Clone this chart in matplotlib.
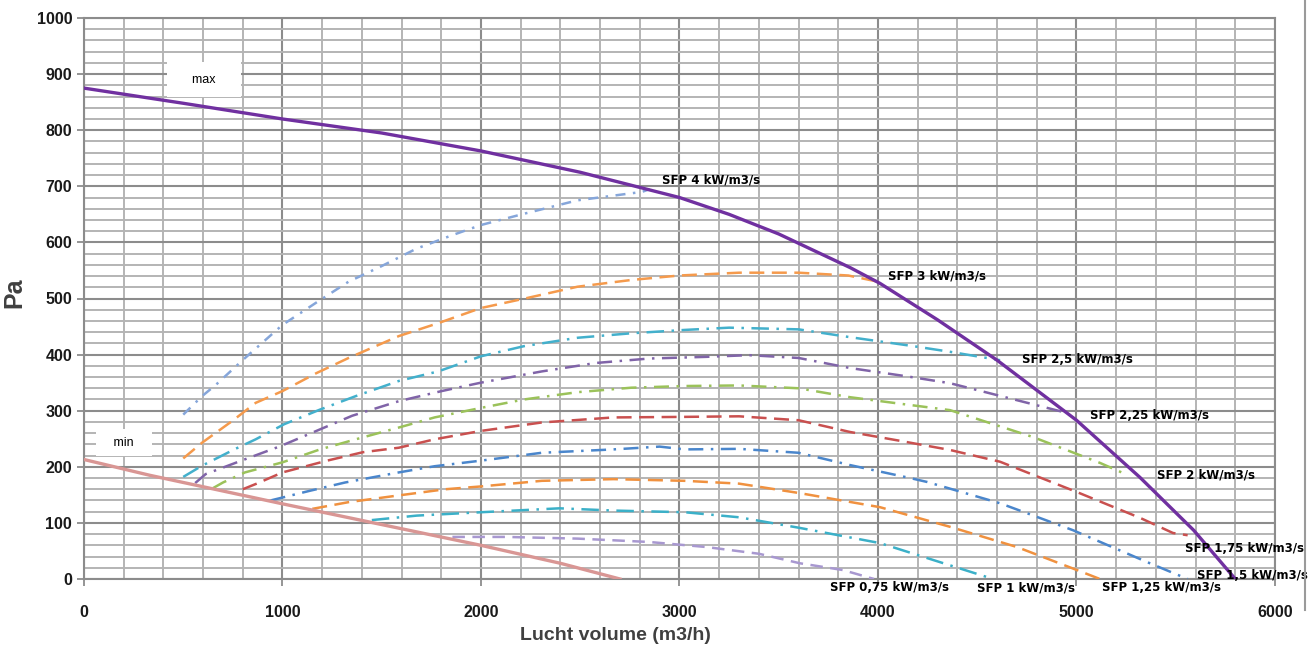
import matplotlib
matplotlib.use("Agg")
import matplotlib.pyplot as plt
from matplotlib.lines import Line2D
from matplotlib.ticker import MultipleLocator

# curve data (x = m3/h, y = Pa)
max_x = [0, 500, 1000, 1500, 2000, 2500, 3000, 3250, 3500, 3860, 4010, 4300, 4600, 5000, 5320, 5590, 5800]
max_y = [875, 848, 820, 795, 763, 725, 680, 650, 615, 555, 527, 462, 390, 283, 181, 87, 0]

min_x = [0, 330, 1000, 1500, 2000, 2400, 2700]
min_y = [213, 185, 134, 97, 60, 28, 0]

sfp_names = ["SFP 4 kW/m3/s", "SFP 3 kW/m3/s", "SFP 2,5 kW/m3/s", "SFP 2,25 kW/m3/s",
             "SFP 2 kW/m3/s", "SFP 1,75 kW/m3/s", "SFP 1,5 kW/m3/s", "SFP 1,25 kW/m3/s",
             "SFP 1 kW/m3/s", "SFP 0,75 kW/m3/s"]

sfp_x = [
    [500, 595, 667, 802, 1000, 1180, 1333, 1495, 1676, 1856, 2000, 2216, 2486, 2811, 2850],
    [500, 595, 748, 865, 1000, 1171, 1333, 1586, 1784, 2000, 2234, 2486, 2757, 3000, 3300, 3600, 3850, 4000],
    [500, 595, 757, 865, 1009, 1189, 1369, 1586, 1784, 2000, 2216, 2486, 2757, 3027, 3250, 3600, 3860, 4160, 4363, 4615],
    [560, 613, 793, 991, 1171, 1351, 1586, 1802, 2000, 2306, 2577, 2847, 3135, 3350, 3600, 3860, 4150, 4363, 4564, 4952],
    [650, 700, 811, 1000, 1189, 1369, 1586, 1766, 2000, 2216, 2486, 2757, 3027, 3300, 3600, 3860, 4100, 4363, 4781, 5118, 5234],
    [800, 870, 1000, 1225, 1405, 1586, 1766, 2000, 2306, 2667, 3027, 3300, 3600, 3860, 4100, 4363, 4615, 5002, 5320, 5486, 5560],
    [940, 1135, 1315, 1586, 1766, 2000, 2306, 2667, 2900, 3027, 3300, 3600, 3860, 4161, 4247, 4615, 4982, 5370, 5560],
    [1150, 1333, 1586, 1820, 2000, 2306, 2667, 3027, 3300, 3607, 4010, 4363, 4700, 5002, 5118],
    [1450, 1676, 2000, 2396, 2667, 3027, 3300, 3607, 4010, 4277, 4580],
    [1856, 2126, 2486, 2847, 3135, 3400, 3607, 3823, 3980],
]
sfp_y = [
    [293, 326, 347, 391, 453, 495, 530, 557, 589, 613, 631, 651, 675, 690, 695],
    [215, 243, 282, 314, 335, 367, 394, 433, 456, 483, 501, 521, 533, 541, 546, 546, 541, 530],
    [182, 202, 231, 249, 276, 302, 326, 353, 370, 397, 415, 430, 438, 444, 448, 445, 431, 416, 405, 390],
    [171, 187, 211, 237, 264, 291, 317, 335, 350, 370, 385, 393, 396, 399, 394, 376, 361, 349, 331, 296],
    [162, 172, 190, 208, 231, 249, 270, 288, 305, 320, 333, 341, 344, 345, 340, 324, 313, 301, 253, 207, 189],
    [160, 170, 190, 211, 226, 234, 249, 264, 279, 288, 289, 290, 283, 262, 247, 230, 209, 155, 109, 82, 78],
    [140, 157, 172, 190, 201, 211, 225, 231, 236, 231, 232, 225, 203, 180, 173, 135, 87, 28, 0],
    [125, 137, 149, 160, 165, 175, 178, 175, 170, 153, 128, 93, 57, 16, 0],
    [105, 113, 119, 126, 122, 119, 110, 91, 64, 34, 0],
    [75, 75, 72, 66, 57, 45, 28, 16, 0],
]

sfp_colors = ["#86A6DA", "#F59A4C", "#43B0CC", "#8064A8", "#9BC25A",
              "#C9504F", "#4A86CC", "#F0913F", "#3BB0C8", "#A898D0"]
sfp_dashes = [(0, (4, 3, 1, 3)), (0, (6, 3)), (0, (7, 3, 1, 3)), (0, (6, 3, 1, 3)),
              (0, (6, 3, 1, 3)), (0, (6, 3)), (0, (6, 3, 1, 3)), (0, (6, 3)),
              (0, (7, 3, 1, 3)), (0, (5, 3))]

# label anchor (left, centre) in data units
label_x = [2912, 4050, 4725, 5068, 5406, 5547, 5607, 5128, 4499, 3758]
label_y = [711, 540, 392, 292, 185, 55, 7, -16, -16, -16]

fig = plt.figure(figsize=(13.12, 6.58), dpi=100)
ax = fig.add_axes([84 / 1312, 79 / 658, 1191 / 1312, 561 / 658])

ax.set_xlim(0, 6000)
ax.set_ylim(0, 1000)
ax.xaxis.set_major_locator(MultipleLocator(1000))
ax.xaxis.set_minor_locator(MultipleLocator(200))
ax.yaxis.set_major_locator(MultipleLocator(100))
ax.yaxis.set_minor_locator(MultipleLocator(20))
ax.grid(which="minor", color="#B4B4B4", linewidth=1.4)
ax.grid(which="major", color="#8C8C8C", linewidth=1.5)
ax.set_axisbelow(True)
for side in ["top", "right", "left", "bottom"]:
    ax.spines[side].set_color("#8C8C8C")
    ax.spines[side].set_linewidth(1.5)

ax.tick_params(which="major", direction="out", length=5, width=1.3, color="#8C8C8C",
               labelsize=11.5)
ax.tick_params(which="minor", length=0)
ax.tick_params(axis="x", pad=14)
for lbl in ax.get_xticklabels() + ax.get_yticklabels():
    lbl.set_fontweight("bold")
    lbl.set_family("Liberation Sans")
    lbl.set_color("#1A1A1A")

for i in range(len(sfp_names)):
    ax.plot(sfp_x[i], sfp_y[i], color=sfp_colors[i], linestyle=sfp_dashes[i],
            linewidth=1.8, zorder=3)

ax.plot(min_x, min_y, color="#D99694", linewidth=2.4, zorder=4)
ax.plot(max_x, max_y, color="#7030A0", linewidth=2.4, zorder=4)

for i, name in enumerate(sfp_names):
    ax.text(label_x[i], label_y[i], name, ha="left", va="center", fontsize=8.5,
            fontweight="bold", family=["Liberation Sans Narrow", "DejaVu Sans"],
            clip_on=False, zorder=6)

ax.text(605, 890, "    max    ", ha="center", va="center", fontsize=9,
        family="Liberation Sans", zorder=5,
        bbox=dict(boxstyle="square,pad=0.9", facecolor="white", edgecolor="none"))
ax.text(200, 243, "   min   ", ha="center", va="center", fontsize=9,
        family="Liberation Sans", zorder=5,
        bbox=dict(boxstyle="square,pad=0.6", facecolor="white", edgecolor="none"))

ax.set_xlabel("Lucht volume (m3/h)", fontsize=14, fontweight="heavy", color="#404040",
              family="Liberation Sans")
ax.xaxis.set_label_coords(0.446, -0.085)
ax.set_ylabel("Pa", fontsize=18, fontweight="heavy", color="#404040",
              family="Liberation Sans")
ax.yaxis.set_label_coords(-0.048, 0.51)

# chart area border on the right
fig.add_artist(Line2D([1305 / 1312, 1305 / 1312], [48 / 658, 1.0], color="#9A9A9A",
                      linewidth=1.5))

fig.savefig("out.png", dpi=100)
